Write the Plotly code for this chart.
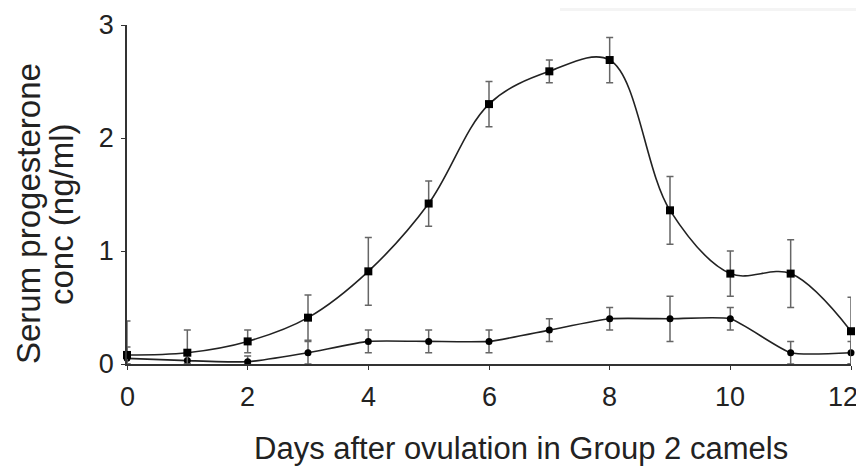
import plotly.graph_objects as go

days = [0, 1, 2, 3, 4, 5, 6, 7, 8, 9, 10, 11, 12]
upper_vals = [0.08, 0.10, 0.20, 0.41, 0.82, 1.42, 2.30, 2.59, 2.69, 1.36, 0.80, 0.80, 0.29]
upper_err = [0.30, 0.20, 0.10, 0.20, 0.30, 0.20, 0.20, 0.10, 0.20, 0.30, 0.20, 0.30, 0.30]
lower_vals = [0.05, 0.03, 0.02, 0.10, 0.20, 0.20, 0.20, 0.30, 0.40, 0.40, 0.40, 0.10, 0.10]
lower_err = [0.10, 0.05, 0.05, 0.10, 0.10, 0.10, 0.10, 0.10, 0.10, 0.20, 0.10, 0.10, 0.10]
x_ticks = [0, 2, 4, 6, 8, 10, 12]
x_tick_labels = ["0", "2", "4", "6", "8", "10", "12"]
y_ticks = [0, 1, 2, 3]

FONT = "Liberation Sans, Arial, sans-serif"

fig = go.Figure()

def add_series(vals, errs, symbol, size, smoothing):
    fig.add_trace(go.Scatter(
        x=days, y=vals, mode="lines+markers",
        line=dict(color="#222222", width=1.6, shape="spline", smoothing=smoothing),
        marker=dict(symbol=symbol, size=size, color="#000000"),
        error_y=dict(type="data", symmetric=False, array=errs,
                     arrayminus=[min(e, v) for e, v in zip(errs, vals)],
                     color="#666666", thickness=1.5, width=3.5),
        cliponaxis=False, showlegend=False,
    ))

add_series(lower_vals, lower_err, "circle", 7, 0.5)
add_series(upper_vals, upper_err, "square", 8, 1.0)

# page body adds an 8px offset; size the figure so it fits the window exactly
OFF = 8
W, H = 864 - OFF, 468 - OFF
ml, mt = 127 - OFF, 25 - OFF
pw, ph = 724, 339
mr, mb = W - ml - pw, H - mt - ph

def px2paper(px, py):
    return (px - OFF - ml) / pw, 1 - (py - OFF - mt) / ph

tx, ty = px2paper(521, 448)
y1x, y1y = px2paper(28, 214)
y2x, y2y = px2paper(61, 214)
sx0, sy0 = px2paper(560, 11)
sx1, sy1 = px2paper(864, 8)
_, tick_y = px2paper(0, 397)

annotations = [
    dict(text="Days after ovulation in Group 2 camels", x=tx, y=ty,
         xref="paper", yref="paper", showarrow=False,
         xanchor="center", yanchor="middle",
         font=dict(family=FONT, size=31, color="#222222")),
    dict(text="Serum progesterone", x=y1x, y=y1y,
         xref="paper", yref="paper", showarrow=False, textangle=-90,
         xanchor="center", yanchor="middle",
         font=dict(family=FONT, size=33, color="#222222")),
    dict(text="conc (ng/ml)", x=y2x, y=y2y,
         xref="paper", yref="paper", showarrow=False, textangle=-90,
         xanchor="center", yanchor="middle",
         font=dict(family=FONT, size=33, color="#222222")),
]
# x tick labels placed on the x axis scale; the last one is kept inside the page edge
for i, (tv, tl) in enumerate(zip(x_ticks, x_tick_labels)):
    last = i == len(x_ticks) - 1
    annotations.append(dict(
        text=tl, x=tv, y=tick_y, xref="x", yref="paper", showarrow=False,
        xanchor="right" if last else "center", xshift=9 if last else 0,
        yanchor="middle", font=dict(family=FONT, size=27, color="#222222")))

fig.update_layout(
    width=W, height=H,
    margin=dict(l=ml, r=mr, t=mt, b=mb, autoexpand=False),
    plot_bgcolor="white", paper_bgcolor="white",
    font=dict(family=FONT, color="#222222", size=27),
    xaxis=dict(range=[0, 12], tickvals=x_ticks, showticklabels=False,
               showgrid=False, zeroline=False,
               showline=True, linecolor="#333333", linewidth=1.6, automargin=False,
               ticks="outside", ticklen=4, tickcolor="#333333", tickwidth=1.2),
    yaxis=dict(range=[0, 3], tickvals=y_ticks, showgrid=False, zeroline=False,
               showline=True, linecolor="#333333", linewidth=1.6, automargin=False,
               ticks="outside", ticklen=4, tickcolor="#333333", tickwidth=1.2,
               tickfont=dict(family=FONT, size=27, color="#222222"),
               ticklabelstandoff=2),
    annotations=annotations,
    shapes=[dict(type="rect", xref="paper", yref="paper", x0=sx0, x1=sx1, y0=sy0, y1=sy1,
                 fillcolor="#f4f4f4", line=dict(width=0), layer="below")],
)

fig.write_html("out.html")
